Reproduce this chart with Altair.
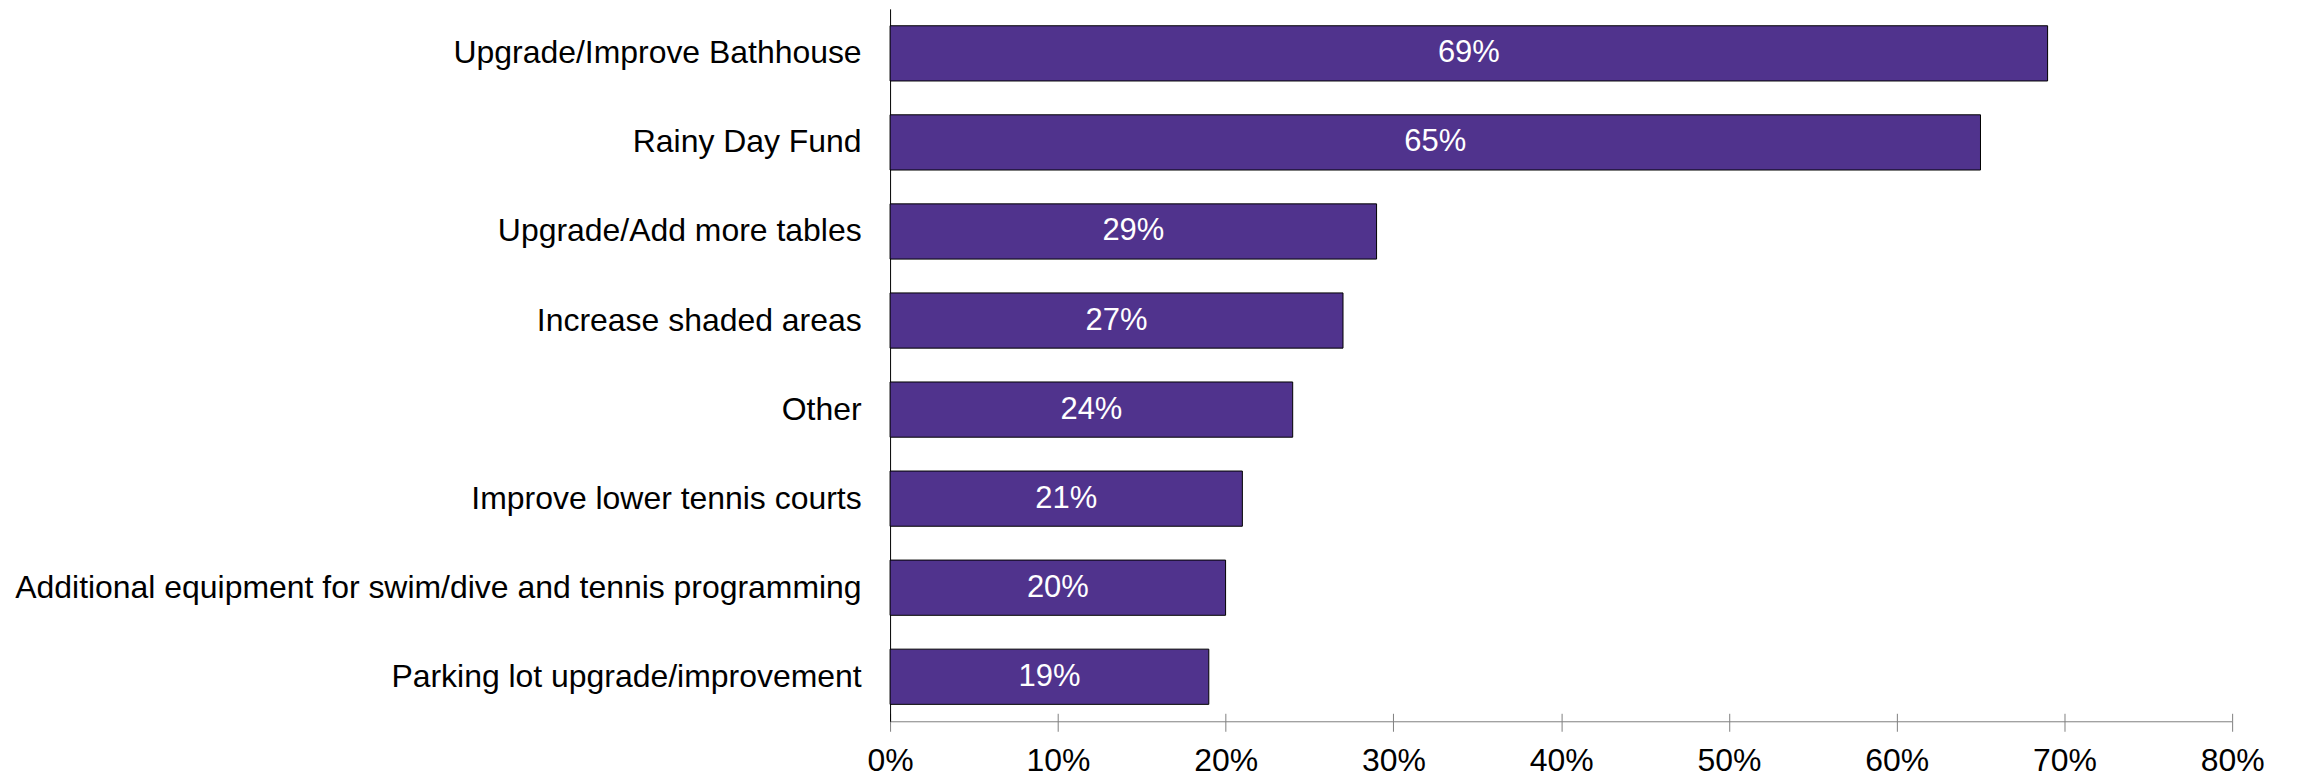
import altair as alt
import pandas as pd

categories = [
    "Upgrade/Improve Bathhouse",
    "Rainy Day Fund",
    "Upgrade/Add more tables",
    "Increase shaded areas",
    "Other",
    "Improve lower tennis courts",
    "Additional equipment for swim/dive and tennis programming",
    "Parking lot upgrade/improvement",
]
values = [0.69, 0.65, 0.29, 0.27, 0.24, 0.21, 0.20, 0.19]
tick_values = [0, 0.1, 0.2, 0.3, 0.4, 0.5, 0.6, 0.7, 0.8]

df = pd.DataFrame({"category": categories, "value": values})

FONT = "Liberation Sans"
x_scale = alt.Scale(domain=[0, 0.8], nice=False, zero=True)
y_scale = alt.Scale(paddingInner=0.38, paddingOuter=0.19)


def y_enc():
    return alt.Y(
        "category:N",
        sort=categories,
        title=None,
        scale=y_scale,
        axis=alt.Axis(
            ticks=False,
            labelPadding=29,
            labelFontSize=32,
            labelLimit=0,
            domainColor="#000000",
        ),
    )


bars = alt.Chart(df).mark_bar(color="#50338D", stroke="#000000", strokeWidth=1).encode(
    x=alt.X(
        "value:Q",
        scale=x_scale,
        title=None,
        axis=alt.Axis(
            orient="bottom",
            format=".0%",
            values=tick_values,
            tickSize=10,
            tickColor="#808080",
            domainColor="#808080",
            labelFontSize=32,
            labelPadding=14,
            labelFlush=False,
            grid=False,
        ),
    ),
    y=y_enc(),
)

text = (
    alt.Chart(df)
    .transform_calculate(mid="datum.value / 2")
    .mark_text(color="white", fontSize=31, font=FONT, baseline="middle", align="center")
    .encode(
        x=alt.X(
            "mid:Q",
            scale=x_scale,
            title=None,
            axis=alt.Axis(
                orient="bottom",
                offset=-8,
                tickSize=8,
                labels=False,
                domain=False,
                grid=False,
                values=tick_values,
                tickColor="#808080",
            ),
        ),
        y=y_enc(),
        text=alt.Text("value:Q", format=".0%"),
    )
)

chart = (
    alt.layer(bars, text)
    .resolve_scale(x="independent")
    .properties(
        width=1345,
        height=714,
        padding={"left": 884, "top": 0, "right": 60, "bottom": 52},
        autosize=alt.AutoSizeParams(type="none"),
    )
    .configure_view(stroke=None)
    .configure_axis(labelFont=FONT, labelColor="#000000")
)

chart.save("out.html", embed_options={"renderer": "svg", "actions": False})
